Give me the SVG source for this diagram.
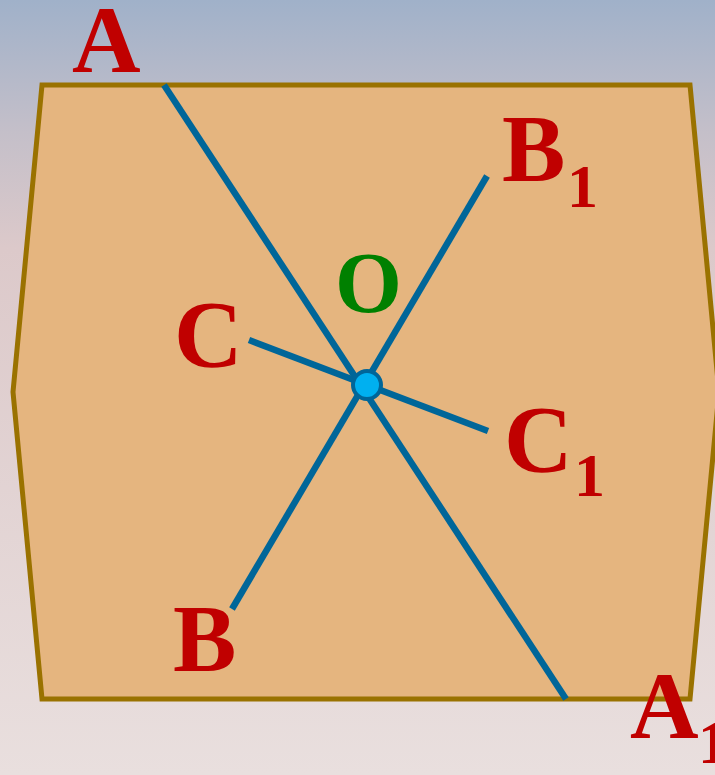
<svg xmlns="http://www.w3.org/2000/svg" width="715" height="775" viewBox="0 0 715 775">
  <defs>
    <linearGradient id="bg" x1="0" y1="0" x2="0" y2="1">
      <stop offset="0" stop-color="#a0b1c9"/>
      <stop offset="0.17" stop-color="#c4bfc9"/>
      <stop offset="0.32" stop-color="#dcc9ca"/>
      <stop offset="1" stop-color="#e9dfde"/>
    </linearGradient>
  </defs>
  <style>
    .lbl { font-family: "Liberation Serif", "Times New Roman", serif; font-weight: bold; fill: #c00000; }
    .main { font-size: 95px; }
    .sub { font-size: 62px; }
    .seg { stroke: #006699; stroke-width: 6.5; stroke-linecap: butt; fill: none; }
  </style>
  <rect width="715" height="775" fill="url(#bg)"/>
  <g id="plane">
    <polygon points="42,85 690,85 719,392 690,699 42,699 13,392" fill="#e5b57f" stroke="#9a7200" stroke-width="5" stroke-linejoin="miter"/>
  </g>
  <g id="connectors">
    <line class="seg" x1="164" y1="85" x2="566" y2="699"/>
    <line class="seg" x1="487" y1="176" x2="232" y2="609"/>
    <line class="seg" x1="249" y1="340" x2="488" y2="431"/>
  </g>
  <g id="O">
    <circle cx="367" cy="385" r="14" fill="#00b0f0" stroke="#006699" stroke-width="4"/>
    <text x="335" y="312" class="lbl" style="fill:#008000;font-size:86px">O</text>
  </g>
  <g id="A">
    <text x="72" y="72" class="lbl main">A</text>
  </g>
  <g id="A1">
    <text x="630" y="738" class="lbl main">A</text>
    <text x="698" y="763" class="lbl sub">1</text>
  </g>
  <g id="B1">
    <text x="502" y="181" class="lbl main">B</text>
    <text x="567" y="207" class="lbl sub">1</text>
  </g>
  <g id="B">
    <text x="173" y="671" class="lbl main">B</text>
  </g>
  <g id="C">
    <text x="174" y="367" class="lbl main">C</text>
  </g>
  <g id="C1">
    <text x="504" y="472" class="lbl main">C</text>
    <text x="574" y="496" class="lbl sub">1</text>
  </g>
</svg>
